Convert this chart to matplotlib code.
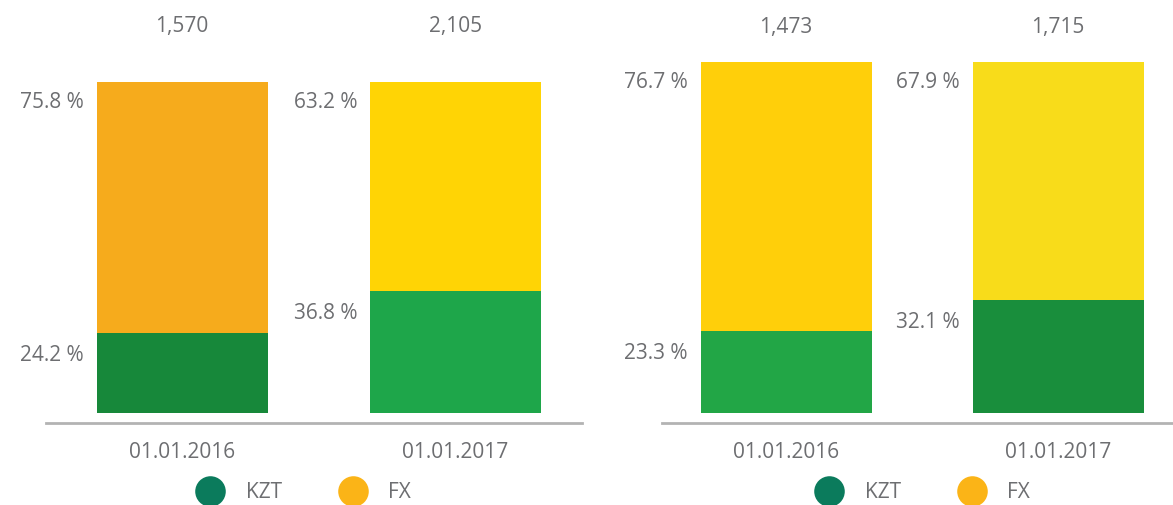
import matplotlib
matplotlib.use('Agg')
import matplotlib.pyplot as plt
from matplotlib.lines import Line2D

plt.rcParams['font.family'] = ['Open Sans', 'DejaVu Sans']

dates = ['01.01.2016', '01.01.2017']

# left panel
left_totals = ['1,570', '2,105']
left_kzt = [24.2, 36.8]
left_fx = [75.8, 63.2]

# right panel
right_totals = ['1,473', '1,715']
right_kzt = [23.3, 32.1]
right_fx = [76.7, 67.9]

TEXT = '#6d6e71'
FS = 15
W, H = 1173, 505
fig = plt.figure(figsize=(W / 100, H / 100), dpi=100)


def px_axes(x0, x1, y_top, y_base):
    # pixel box -> figure fraction axes
    return fig.add_axes([x0 / W, 1 - y_base / H, (x1 - x0) / W, (y_base - y_top) / H])


def panel(ax, totals, kzt, fx, kzt_colors, fx_colors, centers_px, x0, x1,
          bar_top, top_offset, legend_x):
    spacing = centers_px[1] - centers_px[0]
    ax.set_xlim((x0 - centers_px[0]) / spacing, 1 + (x1 - centers_px[1]) / spacing)
    unit = (413 - bar_top) / 100.0
    ax.set_ylim(-10 / unit, 100)
    xs = range(len(dates))
    width = 171 / spacing
    ax.bar(xs, kzt, width=width, color=kzt_colors)
    ax.bar(xs, fx, width=width, bottom=kzt, color=fx_colors)
    for i in xs:
        left = i - width / 2
        ax.annotate(f'{fx[i]} %', xy=(left, 100), xytext=(-9, -15),
                    textcoords='offset points', ha='right', va='center',
                    fontsize=FS, color=TEXT)
        ax.annotate(f'{kzt[i]} %', xy=(left, kzt[i]), xytext=(-9, -16),
                    textcoords='offset points', ha='right', va='center',
                    fontsize=FS, color=TEXT)
        ax.annotate(totals[i], xy=(i, 100), xytext=(0, top_offset),
                    textcoords='offset points', ha='center', va='center',
                    fontsize=FS, color=TEXT)
        ax.annotate(dates[i], xy=(i, 0), xytext=(0, -28.5),
                    textcoords='offset points', ha='center', va='center',
                    fontsize=FS, color=TEXT)
    for s in ['top', 'left', 'right']:
        ax.spines[s].set_visible(False)
    ax.spines['bottom'].set_color('#b3b3b3')
    ax.spines['bottom'].set_linewidth(2)
    ax.set_xticks([])
    ax.set_yticks([])
    ax.patch.set_alpha(0)

    handles = [Line2D([], [], marker='o', linestyle='', markersize=22,
                      markerfacecolor='#0b7b5c', markeredgewidth=0),
               Line2D([], [], marker='o', linestyle='', markersize=22,
                      markerfacecolor='#fbb417', markeredgewidth=0)]
    fig.legend(handles, ['KZT', 'FX'], loc='center left', ncol=2, frameon=False,
               bbox_to_anchor=(legend_x / W, 1 - 493 / H), bbox_transform=fig.transFigure,
               fontsize=FS, labelcolor=TEXT, handlelength=1.0, handletextpad=1.2,
               columnspacing=2.9, borderpad=0, borderaxespad=0)


ax1 = px_axes(46, 582, 82, 423)
panel(ax1, left_totals, left_kzt, left_fx,
      ['#17883a', '#1ea64a'], ['#f6ab1c', '#ffd405'],
      [182, 455.5], 46, 582, 82, 40, 200)

ax2 = px_axes(662, 1173, 62, 423)
panel(ax2, right_totals, right_kzt, right_fx,
      ['#22a646', '#198e3c'], ['#ffcf0a', '#f8dc1a'],
      [786, 1058], 662, 1173, 62, 25, 819)

fig.savefig('out.png', dpi=100)
